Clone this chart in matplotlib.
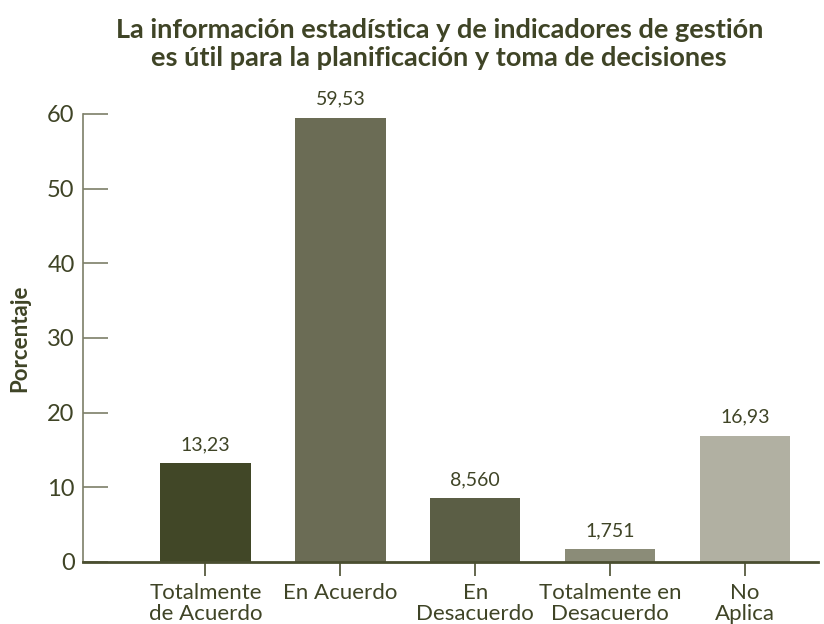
import matplotlib.pyplot as plt

# ---------------------------------------------------------------------------
# Data
# ---------------------------------------------------------------------------
CATEGORIES = ["Totalmente\nde Acuerdo", "En Acuerdo", "En\nDesacuerdo",
              "Totalmente en\nDesacuerdo", "No\nAplica"]
VALUES = [13.23, 59.53, 8.560, 1.751, 16.93]
VALUE_LABELS = ["13,23", "59,53", "8,560", "1,751", "16,93"]
BAR_COLORS = ["#414727", "#6b6c55", "#5b5e45", "#8b8c78", "#b1b0a2"]
Y_TICKS = [0, 10, 20, 30, 40, 50, 60]

TEXT_COLOR = "#3f4426"
AXIS_COLOR = "#4a4e30"

plt.rcParams["font.family"] = ["Lato", "DejaVu Sans"]

fig = plt.figure(figsize=(8.24, 6.24), dpi=100)
ax = fig.add_axes([83 / 824, 1 - 562 / 624, (818 - 83) / 824, (562 - 114) / 624])

x = range(len(CATEGORIES))
ax.bar(x, VALUES, width=0.67, color=BAR_COLORS)

for xi, v, lab in zip(x, VALUES, VALUE_LABELS):
    ax.annotate(lab, (xi, v), xytext=(0, 7), textcoords="offset points",
                ha="center", va="bottom", fontsize=14, color=TEXT_COLOR)

ax.set_xlim(-0.907, 4.54)
ax.set_ylim(0, 60)
ax.set_yticks(Y_TICKS)
ax.set_xticks(list(x))
ax.set_xticklabels(CATEGORIES, fontsize=16, color=TEXT_COLOR, linespacing=1.1)
ax.tick_params(axis="y", direction="in", length=18, width=1.2, color="#7d7f68",
               labelsize=17, labelcolor=TEXT_COLOR, pad=6)
ax.tick_params(axis="x", direction="out", length=10, width=1.2, color=AXIS_COLOR,
               pad=5)

for side in ("top", "right"):
    ax.spines[side].set_visible(False)
ax.spines["left"].set_color("#7d7f68")
ax.spines["left"].set_linewidth(1.2)
ax.spines["bottom"].set_color(AXIS_COLOR)
ax.spines["bottom"].set_linewidth(2)

ax.set_ylabel("Porcentaje", fontsize=16, fontweight="bold", color=TEXT_COLOR,
              labelpad=12)

fig.text(0.533, 1 - 44 / 624,
         "La información estadística y de indicadores de gestión\n"
         "es útil para la planificación y toma de decisiones",
         ha="center", va="center", fontsize=19.5, fontweight="bold",
         color=TEXT_COLOR, linespacing=1.25)

fig.savefig("out.png", dpi=100)
